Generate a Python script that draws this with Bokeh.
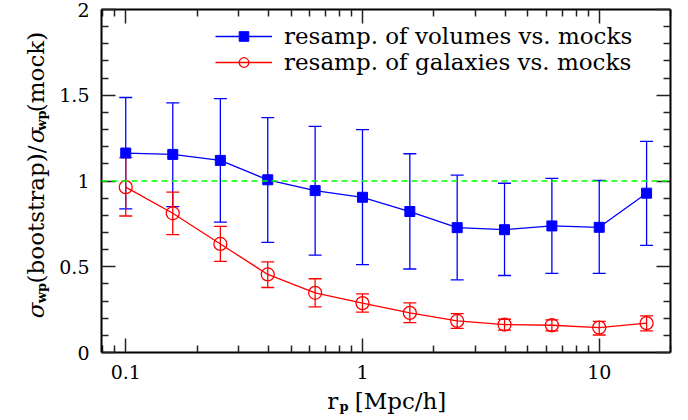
import math
from bokeh.plotting import figure
from bokeh.layouts import column, row
from bokeh.models import (ColumnDataSource, Whisker, TeeHead, Span, Label, Legend, LegendItem,
                          FixedTicker, NumeralTickFormatter, LogAxis, LinearAxis, Range1d,
                          CustomJSTickFormatter)
from bokeh.embed import file_html
from bokeh.resources import INLINE

# ---- data ----
rp = [0.1, 0.158, 0.251, 0.398, 0.631, 1.0, 1.585, 2.512, 3.981, 6.31, 10.0, 15.85]

vol = [1.163, 1.155, 1.12, 1.007, 0.944, 0.905, 0.822, 0.728, 0.716, 0.738, 0.73, 0.929]
vol_hi = [1.487, 1.455, 1.48, 1.37, 1.319, 1.30, 1.159, 1.034, 0.987, 1.015, 1.003, 1.231]
vol_lo = [0.837, 0.851, 0.76, 0.642, 0.568, 0.512, 0.487, 0.424, 0.449, 0.461, 0.461, 0.625]

gal = [0.964, 0.812, 0.633, 0.455, 0.348, 0.288, 0.231, 0.184, 0.163, 0.159, 0.145, 0.171]
gal_hi = [1.136, 0.935, 0.736, 0.529, 0.43, 0.342, 0.289, 0.227, 0.194, 0.19, 0.182, 0.213]
gal_lo = [0.796, 0.687, 0.531, 0.379, 0.266, 0.235, 0.174, 0.141, 0.130, 0.126, 0.102, 0.126]

ref_level = 1.0

x_ticks = [0.1, 1, 10]
x_minor = [0.08, 0.09, 0.2, 0.3, 0.4, 0.5, 0.6, 0.7, 0.8, 0.9,
           2, 3, 4, 5, 6, 7, 8, 9, 20]
y_ticks = [0, 0.5, 1, 1.5, 2]
y_minor = [0.1, 0.2, 0.3, 0.4, 0.6, 0.7, 0.8, 0.9, 1.1, 1.2, 1.3, 1.4,
           1.6, 1.7, 1.8, 1.9]

labels = ["resamp. of volumes vs. mocks", "resamp. of galaxies vs. mocks"]

SERIF = "DejaVu Serif"

YLAB_W = 50
MAIN_H = 386
XLAB_H = 34
FRAME_BOTTOM = 352   # pixel row of the plot frame's bottom edge

p = figure(width=688 - YLAB_W, height=MAIN_H, x_axis_type="log",
           x_range=Range1d(0.079, 20), y_range=Range1d(0, 2),
           output_backend="svg", toolbar_location=None,
           min_border_left=101 - YLAB_W, min_border_right=18,
           min_border_top=9, min_border_bottom=MAIN_H - FRAME_BOTTOM)
p.xgrid.visible = False
p.ygrid.visible = False
p.outline_line_color = None
p.background_fill_color = "white"
p.border_fill_color = "white"


def style_axis(ax, show_labels=True):
    ax.axis_line_width = 2
    ax.axis_line_color = "black"
    ax.major_tick_in = 14
    ax.major_tick_out = 0
    ax.minor_tick_in = 7
    ax.minor_tick_out = 0
    ax.major_tick_line_width = 1.5
    ax.minor_tick_line_width = 1.5
    ax.major_tick_line_color = "#222222"
    ax.minor_tick_line_color = "#222222"
    ax.axis_label = None
    if show_labels:
        ax.major_label_text_font = SERIF
        ax.major_label_text_font_size = "19px"
        ax.major_label_text_color = "black"
        ax.major_label_standoff = 12
        ax.formatter = NumeralTickFormatter(format="0.[0]")
    else:
        ax.major_label_text_font_size = "0px"
        ax.major_label_standoff = 0
        ax.formatter = CustomJSTickFormatter(code="return ''")


p.xaxis.ticker = FixedTicker(ticks=x_ticks, minor_ticks=x_minor)
p.yaxis.ticker = FixedTicker(ticks=y_ticks, minor_ticks=y_minor)
style_axis(p.xaxis[0])
style_axis(p.yaxis[0])

top = LogAxis(ticker=FixedTicker(ticks=x_ticks, minor_ticks=x_minor))
style_axis(top, False)
p.add_layout(top, "above")
right = LinearAxis(ticker=FixedTicker(ticks=y_ticks, minor_ticks=y_minor))
style_axis(right, False)
p.add_layout(right, "right")

# reference line
p.add_layout(Span(location=ref_level, dimension="width", line_color="#00ff00",
                  line_dash="6 4", line_width=1.3))

src_v = ColumnDataSource(dict(x=rp, y=vol, lo=vol_lo, hi=vol_hi))
src_g = ColumnDataSource(dict(x=rp, y=gal, lo=gal_lo, hi=gal_hi))

for src, col in ((src_v, "blue"), (src_g, "red")):
    p.add_layout(Whisker(source=src, base="x", lower="lo", upper="hi",
                         line_color=col, line_width=1.3,
                         upper_head=TeeHead(size=13, line_color=col, line_width=1.3),
                         lower_head=TeeHead(size=13, line_color=col, line_width=1.3)))

lv = p.line("x", "y", source=src_v, line_color="blue", line_width=1.3)
sv = p.scatter("x", "y", source=src_v, marker="square", size=10,
               fill_color="blue", line_color="blue")
lg = p.line("x", "y", source=src_g, line_color="red", line_width=1.3)
sg = p.scatter("x", "y", source=src_g, marker="circle", size=13,
               fill_color=None, line_color="red", line_width=1.3)

legend = Legend(items=[LegendItem(label=labels[0], renderers=[lv, sv]),
                       LegendItem(label=labels[1], renderers=[lg, sg])],
                location=(114, 277), padding=0, margin=0, spacing=0,
                glyph_width=57, glyph_height=24, label_height=24,
                label_standoff=12, label_text_font=SERIF,
                label_text_font_size="23px", label_text_color="black",
                border_line_color=None, background_fill_alpha=0)
p.add_layout(legend)


def blank_fig(w, h):
    f = figure(width=w, height=h, x_range=Range1d(0, 1), y_range=Range1d(0, 1),
               output_backend="svg", toolbar_location=None,
               x_axis_location=None, y_axis_location=None,
               min_border_left=0, min_border_right=0,
               min_border_top=0, min_border_bottom=0)
    f.grid.visible = False
    f.outline_line_color = None
    f.background_fill_color = "white"
    f.border_fill_color = "white"
    return f


def lab(f, text, x, y, size, angle=0.0, style="normal"):
    # (x, y): centre of the text, in pixels from the frame's bottom-left
    f.add_layout(Label(x=x, y=y, x_units="screen", y_units="screen", text=text,
                       angle=angle, text_font=SERIF, text_font_size=f"{size}px",
                       text_font_style=style, text_align="center",
                       text_baseline="middle", text_color="black",
                       level="overlay"))


# y axis label: sigma_wp(bootstrap)/sigma_wp(mock)
# (the frame of this strip is aligned with the main plot's frame in the row)
fy = blank_fig(YLAB_W, MAIN_H)
A = math.pi / 2
lab(fy, "σ", 35, FRAME_BOTTOM - 310, 23, A, "italic")
lab(fy, "wp", 41, FRAME_BOTTOM - 292.5, 13, A, "bold")
lab(fy, "(bootstrap)/", 35, FRAME_BOTTOM - 214, 23, A)
lab(fy, "σ", 35, FRAME_BOTTOM - 135, 23, A, "italic")
lab(fy, "wp", 41, FRAME_BOTTOM - 120, 13, A, "bold")
lab(fy, "(mock)", 35, FRAME_BOTTOM - 71.5, 23, A)

# x axis label: r_p [Mpc/h]
fx = blank_fig(688, XLAB_H)
lab(fx, "r", 332.3, 420 - 400, 23)
lab(fx, "p", 343.5, 420 - 405.5, 13, 0.0, "bold")
lab(fx, "[Mpc/h]", 400, 420 - 400, 23)

layout = column(row(fy, p, spacing=0), fx, spacing=0)

open("out.html", "w").write(file_html(layout, INLINE))
